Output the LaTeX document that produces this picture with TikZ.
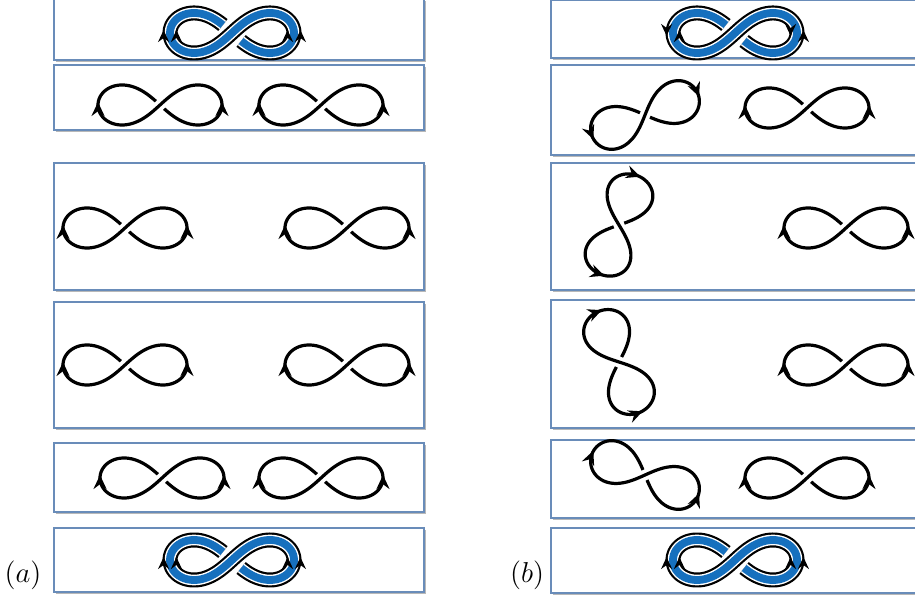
\documentclass[tikz,border=0pt]{standalone}
\usetikzlibrary{arrows.meta}
\definecolor{panelb}{RGB}{105,140,185}
\definecolor{ribbonblue}{RGB}{22,112,190}
\newcommand{\eightcurve}{plot[domain=-82.4:262.4, samples=150, smooth, variable=\t] ({62*cos(\t)/(1+sin(\t)*sin(\t))}, {56.6*sin(\t)*cos(\t)/(1+sin(\t)*sin(\t))})}
\newcommand{\ribboncurve}{plot[domain=-73.6:253.6, samples=150, smooth, variable=\t] ({62*cos(\t)/(1+sin(\t)*sin(\t))}, {56.6*sin(\t)*cos(\t)/(1+sin(\t)*sin(\t))})}
\tikzset{
  panelbox/.style={draw=panelb, line width=0.6pt, fill=white},
  shadowbox/.style={fill=black!28},
  eightline/.style={line width=1.6pt, line join=round},
  tipstyle/.style={line width=1.6pt, -{Stealth[length=7pt,width=6.5pt,inset=2.4pt]}},
  rtip/.style={line width=1.1pt, -{Stealth[length=6pt,width=5.5pt,inset=2pt]}},
  rblack/.style={black, line width=7.5pt, line join=round},
  rwhite/.style={white, line width=5.3pt, line join=round},
  rblue/.style={ribbonblue, line width=3.9pt, line join=round},
}
\newcommand{\eightbody}{%
  \draw[eightline] \eightcurve;
  \draw[tipstyle] (-62,-3) -- (-62,3);
  \draw[tipstyle] (62,-3) -- (62,3);
}
\newcommand{\ribbonbody}{%
  \draw[rblack] \ribboncurve;
  \draw[rwhite] \ribboncurve;
  \draw[rblue] \ribboncurve;
}
\newcommand{\panelat}[4]{%
  \fill[shadowbox] (#1+2,#2-2) rectangle (#3+2,#4-2);
  \filldraw[panelbox] (#1,#2) rectangle (#3,#4);
}
\begin{document}
\begin{tikzpicture}[x=0.5pt,y=0.5pt]
\useasboundingbox (0,0) rectangle (915,615);
\clip (0,0) rectangle (915,615);
% left column panels
\panelat{54}{555}{424}{616}
\panelat{54}{485}{424}{550}
\panelat{54}{325}{424}{452}
\panelat{54}{187}{424}{313}
\panelat{54}{103}{424}{172}
\panelat{54}{23}{424}{87}
% right column panels
\panelat{551}{557}{930}{614.5}
\panelat{551}{460}{930}{550}
\panelat{551}{325}{930}{452}
\panelat{551}{187}{930}{315}
\panelat{551}{97}{930}{175}
\panelat{551}{22}{930}{87}
% left ribbons
\begin{scope}[shift={(232,582)}]
  \ribbonbody
  \draw[rtip] (-68.4,-3) -- (-68.4,3);
  \draw[rtip] (-55.6,-3) -- (-55.6,3);
  \draw[rtip] (55.6,-3) -- (55.6,3);
  \draw[rtip] (68.4,-3) -- (68.4,3);
\end{scope}
\begin{scope}[shift={(232,55)}]
  \ribbonbody
  \draw[rtip] (-68.4,-3) -- (-68.4,3);
  \draw[rtip] (-55.6,-3) -- (-55.6,3);
  \draw[rtip] (55.6,-3) -- (55.6,3);
  \draw[rtip] (68.4,-3) -- (68.4,3);
\end{scope}
% right ribbons
\begin{scope}[shift={(735,582)}]
  \ribbonbody
  \draw[rtip] (-68.4,3) -- (-68.4,-3);
  \draw[rtip] (-55.6,-3) -- (-55.6,3);
  \draw[rtip] (55.6,3) -- (55.6,-3);
  \draw[rtip] (68.4,-3) -- (68.4,3);
\end{scope}
\begin{scope}[shift={(735,55)}]
  \ribbonbody
  \draw[rtip] (-68.4,-3) -- (-68.4,3);
  \draw[rtip] (-55.6,-3) -- (-55.6,3);
  \draw[rtip] (55.6,-3) -- (55.6,3);
  \draw[rtip] (68.4,-3) -- (68.4,3);
\end{scope}
% left column figure eights
\begin{scope}[shift={(160,510)}] \eightbody \end{scope}
\begin{scope}[shift={(321,510)}] \eightbody \end{scope}
\begin{scope}[shift={(125,387)}] \eightbody \end{scope}
\begin{scope}[shift={(347,387)}] \eightbody \end{scope}
\begin{scope}[shift={(125,250)}] \eightbody \end{scope}
\begin{scope}[shift={(347,250)}] \eightbody \end{scope}
\begin{scope}[shift={(162,137)}] \eightbody \end{scope}
\begin{scope}[shift={(321,137)}] \eightbody \end{scope}
% right column figure eights
\begin{scope}[shift={(645,500)}, rotate=-158, xscale=0.92, yscale=1.05] \eightbody \end{scope}
\begin{scope}[shift={(807,507)}] \eightbody \end{scope}
\begin{scope}[shift={(619,390)}, rotate=-110, xscale=0.85, yscale=1.15] \eightbody \end{scope}
\begin{scope}[shift={(846,387)}] \eightbody \end{scope}
\begin{scope}[shift={(619,253)}, rotate=-68, xscale=0.88, yscale=1.15] \eightbody \end{scope}
\begin{scope}[shift={(846,250)}] \eightbody \end{scope}
\begin{scope}[shift={(645,140)}, rotate=-22, xscale=0.92, yscale=1.05] \eightbody \end{scope}
\begin{scope}[shift={(807,137)}] \eightbody \end{scope}
% labels
\node[font=\Large] (la) at (23,40) {$(a)$};
\node[font=\Large] (lb) at (527,40) {$(b)$};
\end{tikzpicture}
\end{document}
